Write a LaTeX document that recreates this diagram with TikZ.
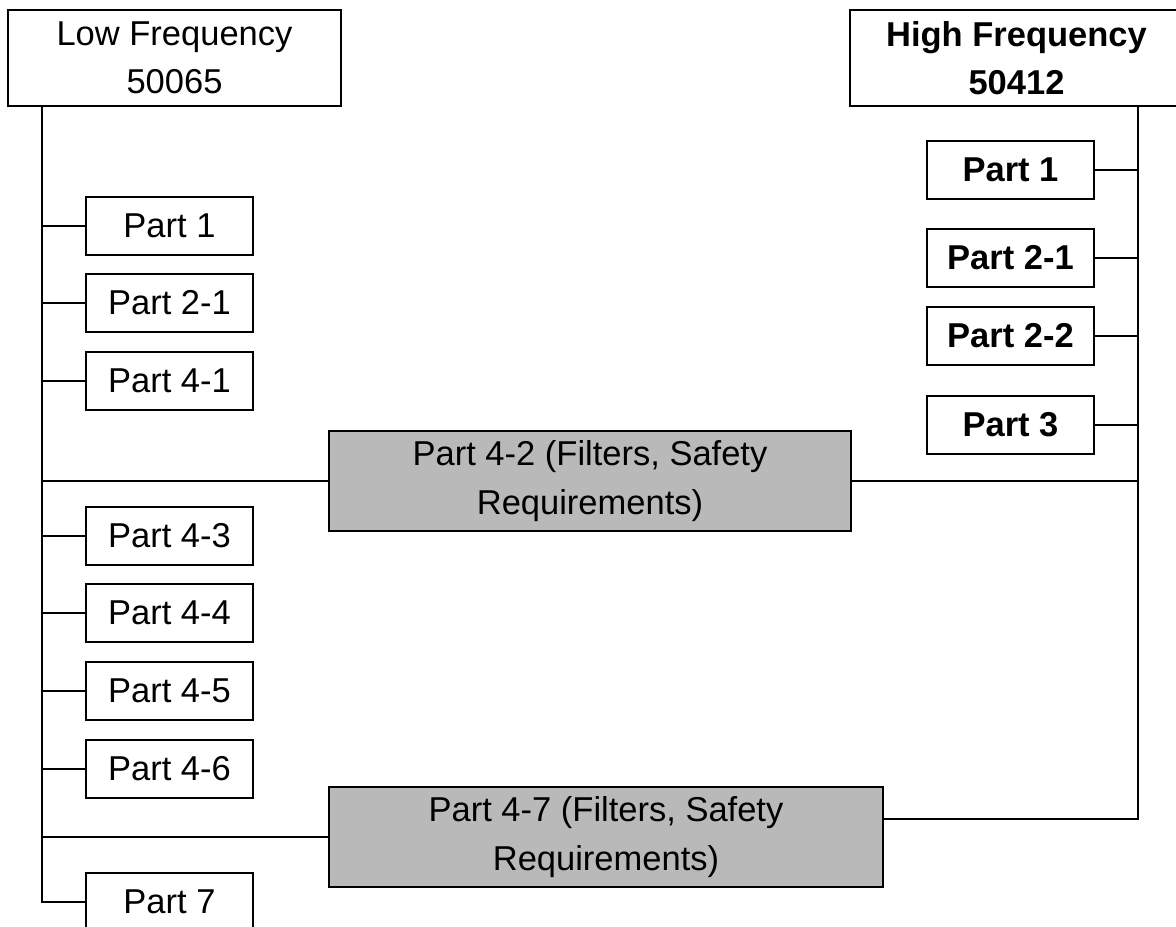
\documentclass[tikz,border=0pt]{standalone}
\usepackage{fontspec}
\setmainfont{Liberation Sans}
\usepackage{tikz}
\usetikzlibrary{positioning}
\definecolor{ShadeGray}{RGB}{185,185,185}
\tikzset{
  std/.style={draw=black,line width=1pt,fill=white,inner sep=0pt,align=center,
    font=\fontsize{17.25}{24.25}\selectfont},
  head/.style={std,minimum width=166.5pt,minimum height=48pt},
  part/.style={std,minimum width=83.5pt,minimum height=29pt},
  boldpart/.style={part,font=\fontsize{17.25}{24.25}\selectfont\bfseries},
  shared/.style={std,fill=ShadeGray,minimum height=50pt},
  link/.style={draw=black,line width=1pt},
  spine/.style={draw=black,line width=1.25pt},
}

\begin{document}
\begin{tikzpicture}[x=0.5pt,y=-0.5pt]
\useasboundingbox (0,0) rectangle (1176,926);
\node[head] (lf) at (174.5,58) {Low Frequency\\50065};
\node[head,font=\fontsize{17.25}{24.25}\selectfont\bfseries] (hf) at (1016.5,58) {High Frequency\\50412};
\coordinate (lt) at (42,106);
\coordinate (lb) at (42,902);
\coordinate (rt) at (1138,106);
\coordinate (rb) at (1138,819);
% low frequency parts
\node[part] (l1) at (169.5,225.5) {Part 1};
\node[part] (l2) at (169.5,303) {Part 2-1};
\node[part] (l3) at (169.5,380.5) {Part 4-1};
\node[part] (l4) at (169.5,536) {Part 4-3};
\node[part] (l5) at (169.5,613) {Part 4-4};
\node[part] (l6) at (169.5,691) {Part 4-5};
\node[part] (l7) at (169.5,768.5) {Part 4-6};
\node[part] (l8) at (169.5,902) {Part 7};
% shared parts
\node[shared,minimum width=261pt] (g1) at (590,481) {Part 4-2 (Filters, Safety\\Requirements)};
\node[shared,minimum width=277pt] (g2) at (606,837) {Part 4-7 (Filters, Safety\\Requirements)};
% high frequency parts
\node[boldpart] (r1) at (1010.5,170) {Part 1};
\node[boldpart] (r2) at (1010.5,258) {Part 2-1};
\node[boldpart] (r3) at (1010.5,336) {Part 2-2};
\node[boldpart] (r4) at (1010.5,425) {Part 3};
% spines
\draw[spine] (lt) -- (lb) -- (l8.west);
\draw[spine] (rt) -- (rb) -- (rb -| g2.east);
% branches
\draw[link] (l1.west) -- (l1.west -| lt);
\draw[link] (l2.west) -- (l2.west -| lt);
\draw[link] (l3.west) -- (l3.west -| lt);
\draw[link] (l4.west) -- (l4.west -| lt);
\draw[link] (l5.west) -- (l5.west -| lt);
\draw[link] (l6.west) -- (l6.west -| lt);
\draw[link] (l7.west) -- (l7.west -| lt);
\draw[link] (g1.west) -- (g1.west -| lt);
\draw[link] (g2.west) -- (g2.west -| lt);
\draw[link] (g1.east) -- (g1.east -| rt);
\draw[link] (r1.east) -- (r1.east -| rt);
\draw[link] (r2.east) -- (r2.east -| rt);
\draw[link] (r3.east) -- (r3.east -| rt);
\draw[link] (r4.east) -- (r4.east -| rt);
\end{tikzpicture}
\end{document}
